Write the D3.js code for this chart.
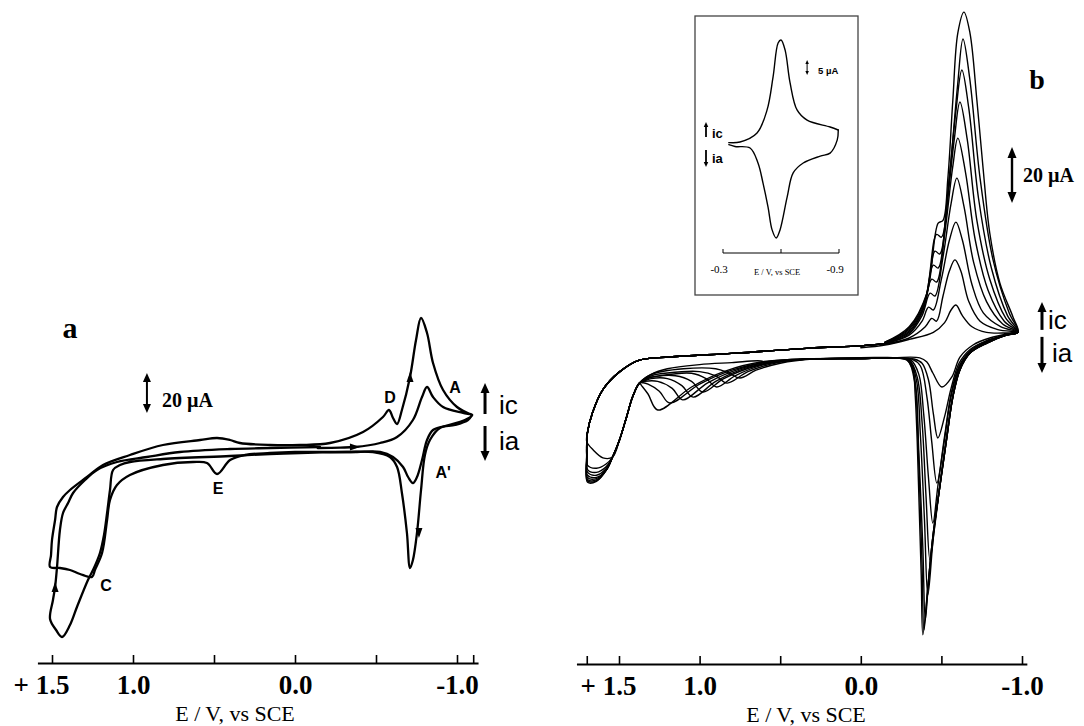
<!DOCTYPE html>
<html>
<head>
<meta charset="utf-8">
<script src="https://cdn.jsdelivr.net/npm/d3@7"></script>
<style>
  body { margin: 0; background: #fff; }
  text { fill: #000; }
</style>
</head>
<body>
<svg id="fig" width="1084" height="726"></svg>
<script>
// ---- panel a : E (V vs SCE), current (uA, cathodic up) ----
const aScan1 = [
  [-0.14, 0], [-0.28, 0.2], [-0.37, 0.5], [-0.525, 2.5], [-0.63, 5.5], [-0.728, 14], [-0.784, 25.5],
  [-0.815, 30.5], [-0.852, 25.5], [-0.914, 20.5], [-1.037, 17.5], [-1.093, 16.5],
  [-1.049, 14], [-0.926, 11], [-0.852, 9], [-0.815, 4], [-0.784, -6], [-0.753, -14.5], [-0.728, -17.5],
  [-0.698, -14.5], [-0.667, -9.5], [-0.605, -4.5], [-0.525, -2], [-0.383, -2], [-0.216, -2], [0, -2],
  [0.154, -2.5], [0.309, -3.5], [0.401, -6], [0.481, -13], [0.543, -7.5], [0.63, -7], [0.815, -8.5],
  [1.019, -13.5], [1.099, -18.5], [1.142, -26], [1.16, -36], [1.191, -52.5], [1.235, -61], [1.253, -64.5],
  [1.327, -63], [1.389, -61], [1.451, -60], [1.512, -59.5],
  [1.506, -53.5], [1.5, -46], [1.481, -36], [1.469, -29.5], [1.432, -24.5], [1.389, -21], [1.284, -14.5],
  [1.185, -8.5], [1.019, -3.5], [0.815, 1.5], [0.586, 4], [0.481, 5], [0.401, 4], [0.34, 2.5], [0.154, 1.5],
  [-0.031, 1.5], [-0.216, 2.5], [-0.42, 8], [-0.543, 15.5], [-0.58, 19], [-0.605, 15], [-0.63, 12],
  [-0.66, 19], [-0.71, 35.5], [-0.747, 54], [-0.778, 65], [-0.815, 57.5], [-0.852, 42.5], [-0.914, 29],
  [-1.0, 20.5], [-1.093, 16.5]
];
const aScan2 = [
  [-1.093, 16.5], [-1.068, 14], [-0.988, 11.5], [-0.895, 10], [-0.833, 4], [-0.802, -3.5], [-0.778, -21],
  [-0.753, -42.5], [-0.728, -56], [-0.71, -60], [-0.691, -42.5], [-0.66, -22.5], [-0.63, -9.5],
  [-0.586, -4.5], [-0.481, -2], [-0.321, -2], [-0.031, -2.5], [0.154, -3], [0.401, -4], [0.815, -5.5],
  [1.019, -7], [1.08, -8.5], [1.123, -11], [1.142, -21], [1.16, -32.5], [1.179, -43.5], [1.204, -52.5],
  [1.241, -60], [1.278, -66], [1.346, -79.5], [1.389, -88.5], [1.438, -94.5], [1.475, -91], [1.512, -85.5],
  [1.494, -76], [1.481, -69.5], [1.469, -59.5], [1.451, -41], [1.432, -32.5], [1.401, -27.5], [1.37, -22.5],
  [1.296, -16], [1.222, -11], [1.099, -7], [0.914, -4.5], [0.71, -2], [0.401, -0.5], [0.154, 0], [-0.154, 0.5]
];
const aArrows = [[-0.71, 35.5, -90], [-0.765, -42.5, 90], [-0.37, 0.5, 0], [1.481, -69.5, -90]];
const aLabels = [["D", -0.586, 25.5], ["A", -0.988, 30.5], ["A'", -0.914, -12], ["E", 0.475, -20], ["C", 1.167, -68.5]];
const aTicks = [1.5, 1.0, 0.5, 0.0, -0.5, -1.0, -1.1];
const aTickLabels = new Map([[1.5, "+ 1.5"], [1, "1.0"], [0, "0.0"], [-1, "-1.0"]]);

// ---- panel b : repeated cycles ----
const bCathodic = [
  [[0.0, 1.5], [-0.15, 2.5], [-0.3, 4.5], [-0.45, 7], [-0.52, 10.5], [-0.56, 15], [-0.59, 16.8], [-0.63, 13], [-0.69, 9], [-0.78, 7], [-0.9, 6.8], [-0.975, 7.1]],
  [[-0.15, 2.8], [-0.3, 5], [-0.4, 9], [-0.44, 12], [-0.47, 11], [-0.51, 20], [-0.55, 29], [-0.584, 32.9], [-0.62, 29], [-0.67, 18], [-0.74, 11], [-0.85, 8], [-0.975, 7.1]],
  [[-0.15, 3], [-0.3, 6], [-0.38, 11], [-0.42, 16], [-0.45, 15], [-0.5, 26], [-0.55, 40], [-0.59, 46.4], [-0.63, 40], [-0.69, 24], [-0.76, 14], [-0.87, 9], [-0.975, 7.1]],
  [[-0.15, 3], [-0.3, 6.5], [-0.38, 13], [-0.43, 21], [-0.46, 20], [-0.51, 34], [-0.56, 53], [-0.596, 62.1], [-0.64, 52], [-0.7, 32], [-0.78, 18], [-0.88, 10], [-0.975, 7.1]],
  [[-0.15, 3.2], [-0.3, 7], [-0.38, 14], [-0.44, 26], [-0.47, 25], [-0.52, 42], [-0.57, 66], [-0.602, 76.4], [-0.65, 64], [-0.71, 40], [-0.79, 22], [-0.89, 11], [-0.975, 7.1]],
  [[-0.15, 3.3], [-0.3, 7.5], [-0.39, 16], [-0.45, 31], [-0.48, 30], [-0.53, 50], [-0.58, 76], [-0.615, 89.3], [-0.66, 76], [-0.72, 47], [-0.8, 26], [-0.9, 12], [-0.975, 7.1]],
  [[-0.15, 3.4], [-0.3, 8], [-0.4, 18], [-0.46, 36], [-0.49, 35], [-0.54, 57], [-0.59, 86], [-0.627, 100.7], [-0.67, 87], [-0.73, 55], [-0.81, 30], [-0.91, 13], [-0.975, 7.1]],
  [[-0.15, 3.5], [-0.3, 8.5], [-0.4, 19], [-0.47, 42], [-0.5, 41], [-0.55, 63], [-0.6, 95], [-0.634, 111.8], [-0.675, 98], [-0.74, 62], [-0.82, 33], [-0.92, 14], [-0.975, 7.1]],
  [[-0.15, 3.5], [-0.3, 9], [-0.41, 21], [-0.48, 46], [-0.51, 47], [-0.54, 62], [-0.571, 90], [-0.602, 114], [-0.64, 121.4], [-0.677, 114], [-0.72, 90], [-0.758, 66], [-0.8, 42.5], [-0.863, 24.6], [-0.944, 12.5], [-0.975, 7.1]]
];
const bAnodic = [
  [[-0.944, 6.8], [-0.8, 5], [-0.696, 2.5], [-0.615, -1.8], [-0.565, -8.9], [-0.503, -12.5], [-0.447, -7.5], [-0.41, -3.6], [-0.366, -2.1], [-0.2, -2], [0.0, -2]],
  [[-0.9, 6], [-0.78, 4], [-0.68, 1], [-0.61, -4], [-0.56, -13], [-0.52, -23], [-0.478, -30.7], [-0.45, -22], [-0.42, -10], [-0.38, -4], [-0.33, -2.5], [-0.2, -2.2], [0.0, -2.3]],
  [[-0.9, 6], [-0.78, 4], [-0.68, 0.5], [-0.61, -5], [-0.56, -15], [-0.52, -30], [-0.472, -46.8], [-0.44, -32], [-0.41, -16], [-0.37, -5], [-0.32, -2.6], [-0.2, -2.2], [0.0, -2.3]],
  [[-0.9, 6], [-0.78, 3.8], [-0.68, 0], [-0.61, -5.5], [-0.56, -16], [-0.52, -31], [-0.48, -47], [-0.447, -61.1], [-0.42, -45], [-0.39, -22], [-0.36, -8], [-0.31, -2.8], [-0.2, -2.2], [0.0, -2.3]],
  [[-0.9, 6], [-0.78, 3.5], [-0.68, -0.2], [-0.61, -6], [-0.57, -16], [-0.53, -31], [-0.49, -48], [-0.455, -64], [-0.429, -74.3], [-0.405, -52], [-0.38, -25], [-0.35, -9], [-0.3, -2.8], [-0.2, -2.2], [0.0, -2.3]],
  [[-0.9, 6], [-0.78, 3.4], [-0.68, -0.3], [-0.615, -6.2], [-0.571, -16], [-0.534, -30.4], [-0.49, -48], [-0.45, -66], [-0.416, -86.8], [-0.395, -60], [-0.37, -30], [-0.345, -10], [-0.3, -2.9], [-0.2, -2.2], [0.0, -2.3]],
  [[-0.907, 6.1], [-0.783, 3.2], [-0.677, -0.4], [-0.615, -6.4], [-0.571, -16.1], [-0.534, -30.4], [-0.49, -48.2], [-0.447, -66], [-0.42, -82], [-0.4, -95.7], [-0.385, -70], [-0.36, -36], [-0.338, -12], [-0.29, -2.9], [-0.2, -2.2], [0.0, -2.3]],
  [[-0.907, 6.1], [-0.783, 3.2], [-0.677, -0.4], [-0.615, -6.4], [-0.571, -16.1], [-0.534, -30.4], [-0.49, -48.2], [-0.447, -66], [-0.416, -84], [-0.392, -99.3], [-0.38, -76], [-0.366, -50], [-0.352, -27], [-0.338, -11], [-0.3, -3], [-0.2, -2.2], [0.0, -2.3]],
  [[-0.907, 6.1], [-0.783, 3.2], [-0.677, -0.4], [-0.615, -6.4], [-0.571, -16.1], [-0.534, -30.4], [-0.49, -48.2], [-0.447, -66], [-0.416, -84], [-0.385, -101], [-0.375, -80], [-0.362, -55], [-0.35, -32], [-0.337, -15], [-0.323, -6.4], [-0.286, -2.9], [-0.2, -2.1], [0.0, -2.3]]
];
const bHump = [
  [[0.3, -2.5], [0.45, -3], [0.55, -3.6], [0.584, -3.9], [0.62, -3.2], [0.8, -3.8], [1.0, -4.5], [1.2, -6], [1.3, -8]],
  [[0.3, -2.5], [0.5, -4], [0.65, -6.5], [0.75, -9.3], [0.82, -7.5], [0.9, -6], [1.1, -6], [1.3, -8]],
  [[0.3, -2.5], [0.5, -3.6], [0.7, -7], [0.83, -11.1], [0.9, -8.5], [1.0, -7], [1.2, -7.5], [1.3, -8.5]],
  [[0.35, -2.6], [0.6, -4.5], [0.78, -8.5], [0.894, -12.5], [0.96, -9.5], [1.05, -7.6], [1.25, -8.5], [1.33, -9.5]],
  [[0.4, -2.8], [0.65, -5], [0.85, -9.5], [0.98, -14.3], [1.05, -10.5], [1.15, -8.5], [1.3, -9], [1.34, -10]],
  [[0.45, -3], [0.7, -5.5], [0.9, -10.5], [1.04, -16.1], [1.11, -12], [1.2, -9.5], [1.3, -9.5], [1.34, -10.3]],
  [[0.5, -3], [0.75, -6], [0.95, -11], [1.105, -17.1], [1.17, -13], [1.26, -10.5], [1.34, -10.5]],
  [[0.55, -3.2], [0.8, -6.5], [1.0, -11.5], [1.186, -18.2], [1.25, -14], [1.32, -11.5], [1.35, -11]],
  [[0.6, -3.4], [0.85, -7], [1.05, -12.5], [1.26, -20.7], [1.32, -15], [1.36, -12]]
];
const bWave = [[1.373, -11.1], [1.416, -16.1], [1.453, -23.2], [1.497, -31.4], [1.54, -37.5]];
const bTail = [
  [[1.6, -37.8], [1.66, -35], [1.70, -32]],
  [[1.58, -40], [1.64, -41.5], [1.695, -40.5], [1.70, -36]],
  [[1.58, -41], [1.64, -43], [1.695, -42], [1.70, -37]],
  [[1.578, -41.5], [1.64, -44], [1.695, -43], [1.70, -37.5]],
  [[1.578, -42], [1.64, -44.8], [1.695, -44], [1.70, -38]],
  [[1.578, -42], [1.64, -45.2], [1.695, -44.8], [1.70, -38]],
  [[1.578, -42.1], [1.64, -45.7], [1.695, -45.5], [1.70, -38.5]],
  [[1.578, -42.1], [1.64, -46], [1.695, -46], [1.70, -39]],
  [[1.578, -42.1], [1.64, -46.2], [1.695, -46.5], [1.70, -39]]
];
const bReturn = [[1.696, -28.9], [1.665, -21.8], [1.602, -13.6], [1.497, -7.1], [1.373, -2.9], [1.186, -1.8], [0.77, -0.4], [0.317, 1.4], [0.0, 2.2], [-0.15, 3]];
const bTicks = [1.7, 1.5, 1.0, 0.5, 0.0, -0.5, -1.0];
const bTickLabels = new Map([[1.5, "+ 1.5"], [1, "1.0"], [0, "0.0"], [-1, "-1.0"]]);

// ---- inset ----
const insetUpper = [[-0.33, 0.8], [-0.388, 1], [-0.476, 4], [-0.528, 11.7], [-0.559, 22.7], [-0.585, 34], [-0.6, 35], [-0.621, 31.7], [-0.647, 20.7], [-0.683, 11.7], [-0.735, 8.3], [-0.854, 6], [-0.896, 5]];
const insetLower = [[-0.896, 5], [-0.891, 1.7], [-0.854, -2.7], [-0.803, -3.7], [-0.715, -6], [-0.663, -9.3], [-0.632, -17.3], [-0.595, -28.3], [-0.575, -31], [-0.554, -28.3], [-0.533, -20.7], [-0.507, -12.7], [-0.481, -6], [-0.44, -1], [-0.362, -0.5], [-0.33, 0.1]];
const insetTicks = [-0.3, -0.6, -0.9];

const svg = d3.select("#fig");
svg.append("rect").attr("width", 1084).attr("height", 726).attr("fill", "#fff");

const serif = "'Liberation Serif','Times New Roman',serif";
const sans = "'Liberation Sans',Arial,sans-serif";

const xA = d3.scaleLinear().domain([1.5, -1.0]).range([52, 457]);
const yA = d3.scaleLinear().domain([0, 20]).range([448, 408]);
const xB = d3.scaleLinear().domain([1.5, -1.0]).range([619, 1022]);
const yB = d3.scaleLinear().domain([0, 20]).range([352, 296]);
const xI = d3.scaleLinear().domain([-0.3, -0.9]).range([723, 839]);
const yI = d3.scaleLinear().domain([0, 5]).range([145, 130]);

function drawCurve(g, pts, x, y, w) {
  const line = d3.line()
    .x(d => x(d[0]))
    .y(d => y(d[1]))
    .curve(d3.curveCatmullRom.alpha(0.5));
  g.append("path")
    .attr("d", line(pts))
    .attr("fill", "none")
    .attr("stroke", "#000")
    .attr("stroke-width", w)
    .attr("stroke-linejoin", "round")
    .attr("stroke-linecap", "round");
}

function head(g, px, py, angle, len, wid) {
  g.append("path")
    .attr("d", `M${len / 2},0 L${-len / 2},${-wid / 2} L${-len / 2},${wid / 2} Z`)
    .attr("transform", `translate(${px},${py}) rotate(${angle})`)
    .attr("fill", "#000");
}

// vertical arrow: from i0 to i1 in data units; heads at the listed ends
function vArrow(g, px, py0, py1, heads, w, len, wid) {
  const dir = py1 < py0 ? -90 : 90;
  const s0 = heads.includes(0) ? (py1 < py0 ? -len * 0.6 : len * 0.6) : 0;
  const s1 = heads.includes(1) ? (py1 < py0 ? len * 0.6 : -len * 0.6) : 0;
  g.append("line")
    .attr("x1", px).attr("x2", px)
    .attr("y1", py0 + s0).attr("y2", py1 + s1)
    .attr("stroke", "#000").attr("stroke-width", w);
  if (heads.includes(1)) head(g, px, py1 + (py1 < py0 ? len / 2 : -len / 2), dir, len, wid);
  if (heads.includes(0)) head(g, px, py0 + (py1 < py0 ? -len / 2 : len / 2), -dir, len, wid);
}

function drawAxis(g, x, yPix, ticks, labels, extent) {
  const ext = x.copy().domain(extent).range(extent.map(x));
  const ax = g.append("g")
    .attr("transform", `translate(0,${yPix})`)
    .call(d3.axisBottom(ext)
      .tickValues(ticks)
      .tickSize(-8)
      .tickSizeOuter(0)
      .tickPadding(12)
      .tickFormat(d => labels.get(d) || ""));
  ax.select(".domain").attr("stroke", "#000").attr("stroke-width", 2.2);
  ax.selectAll(".tick line").attr("stroke", "#000").attr("stroke-width", 1.6);
  ax.selectAll(".tick text")
    .attr("font-family", serif)
    .attr("font-weight", "bold")
    .attr("font-size", 27)
    .attr("fill", "#000");
  ax.selectAll(".tick text").filter(d => d === 1.5)
    .attr("text-anchor", "end")
    .attr("dx", 17);
  return ax;
}

function label(g, txt, px, py, size, family, weight, anchor) {
  g.append("text")
    .attr("x", px).attr("y", py)
    .attr("font-family", family)
    .attr("font-size", size)
    .attr("font-weight", weight)
    .attr("text-anchor", anchor || "middle")
    .text(txt);
}

// ================= panel a =================
const gA = svg.append("g");
drawCurve(gA, aScan1, xA, yA, 2.3);
drawCurve(gA, aScan2, xA, yA, 2.3);
aArrows.forEach(([e, i, ang]) => head(gA, xA(e), yA(i), ang, 10, 7));
aLabels.forEach(([t, e, i]) => label(gA, t, xA(e), yA(i) + 6, 16, sans, "bold"));
drawAxis(gA, xA, 663, aTicks, aTickLabels, [1.59, -1.13]);
label(gA, "E / V, vs SCE", 235, 721, 22, serif, "normal");
label(gA, "a", xA(1.389), yA(59) + 8, 30, serif, "bold");
vArrow(gA, xA(0.914), yA(17.5), yA(37.5), [0, 1], 2, 9, 8);
label(gA, "20 \u00B5A", xA(0.821), yA(20.5), 20, serif, "bold", "start");
vArrow(gA, xA(-1.173), yA(17), yA(32.5), [1], 3, 10, 9);
vArrow(gA, xA(-1.173), yA(11), yA(-6.5), [1], 3, 10, 9);
label(gA, "ic", xA(-1.259), yA(17), 26, sans, "normal", "start");
label(gA, "ia", xA(-1.259), yA(-1), 26, sans, "normal", "start");

// ================= panel b =================
const gB = svg.append("g");
bCathodic.forEach((c, k) => {
  const pts = [].concat(c, bAnodic[k], bHump[k], bWave, bTail[k], bReturn);
  drawCurve(gB, pts, xB, yB, 1.4);
});
drawAxis(gB, xB, 664, bTicks, bTickLabels, [1.764, -1.03]);
label(gB, "E / V, vs SCE", 806, 722, 22, serif, "normal");
label(gB, "b", xB(-1.093), yB(97.1) + 9, 28, serif, "bold");
vArrow(gB, xB(-0.938), yB(53.2), yB(73.2), [0, 1], 2.4, 11, 9);
label(gB, "20 \u00B5A", xB(-1.006), yB(60.7), 20, serif, "bold", "start");
vArrow(gB, xB(-1.124), yB(7.9), yB(17.9), [1], 3, 10, 9);
vArrow(gB, xB(-1.124), yB(5.4), yB(-7.5), [1], 3, 10, 9);
label(gB, "ic", xB(-1.161), yB(8.2), 26, sans, "normal", "start");
label(gB, "ia", xB(-1.186), yB(-3.6), 26, sans, "normal", "start");

// ================= inset =================
const gI = svg.append("g");
gI.append("rect")
  .attr("x", 695).attr("y", 16).attr("width", 163).attr("height", 279)
  .attr("fill", "#fff").attr("stroke", "#444").attr("stroke-width", 1.3);
drawCurve(gI, insetUpper, xI, yI, 1.4);
drawCurve(gI, insetLower, xI, yI, 1.4);
gI.append("line")
  .attr("x1", xI(-0.3)).attr("x2", xI(-0.9)).attr("y1", 253).attr("y2", 253)
  .attr("stroke", "#000").attr("stroke-width", 1);
insetTicks.forEach(t => gI.append("line")
  .attr("x1", xI(t)).attr("x2", xI(t)).attr("y1", 253).attr("y2", 249)
  .attr("stroke", "#000").attr("stroke-width", 1));
label(gI, "-0.3", xI(-0.28), 273, 11, serif, "normal");
label(gI, "-0.9", xI(-0.88), 273, 11, serif, "normal");
label(gI, "E / V, vs SCE", xI(-0.58), 275, 8.5, serif, "normal");
vArrow(gI, xI(-0.735), yI(23.3), yI(28.3), [0, 1], 1, 4, 3.5);
label(gI, "5 \u00B5A", xI(-0.792), yI(23.3) - 1, 9.5, sans, "bold", "start");
vArrow(gI, 706, yI(2.7), yI(7.7), [1], 1.8, 5, 4.5);
vArrow(gI, 706, yI(-1.7), yI(-7.3), [1], 1.8, 5, 4.5);
label(gI, "ic", xI(-0.243), yI(2.3), 13, sans, "bold", "start");
label(gI, "ia", xI(-0.243), yI(-6), 13, sans, "bold", "start");
</script>
</body>
</html>
